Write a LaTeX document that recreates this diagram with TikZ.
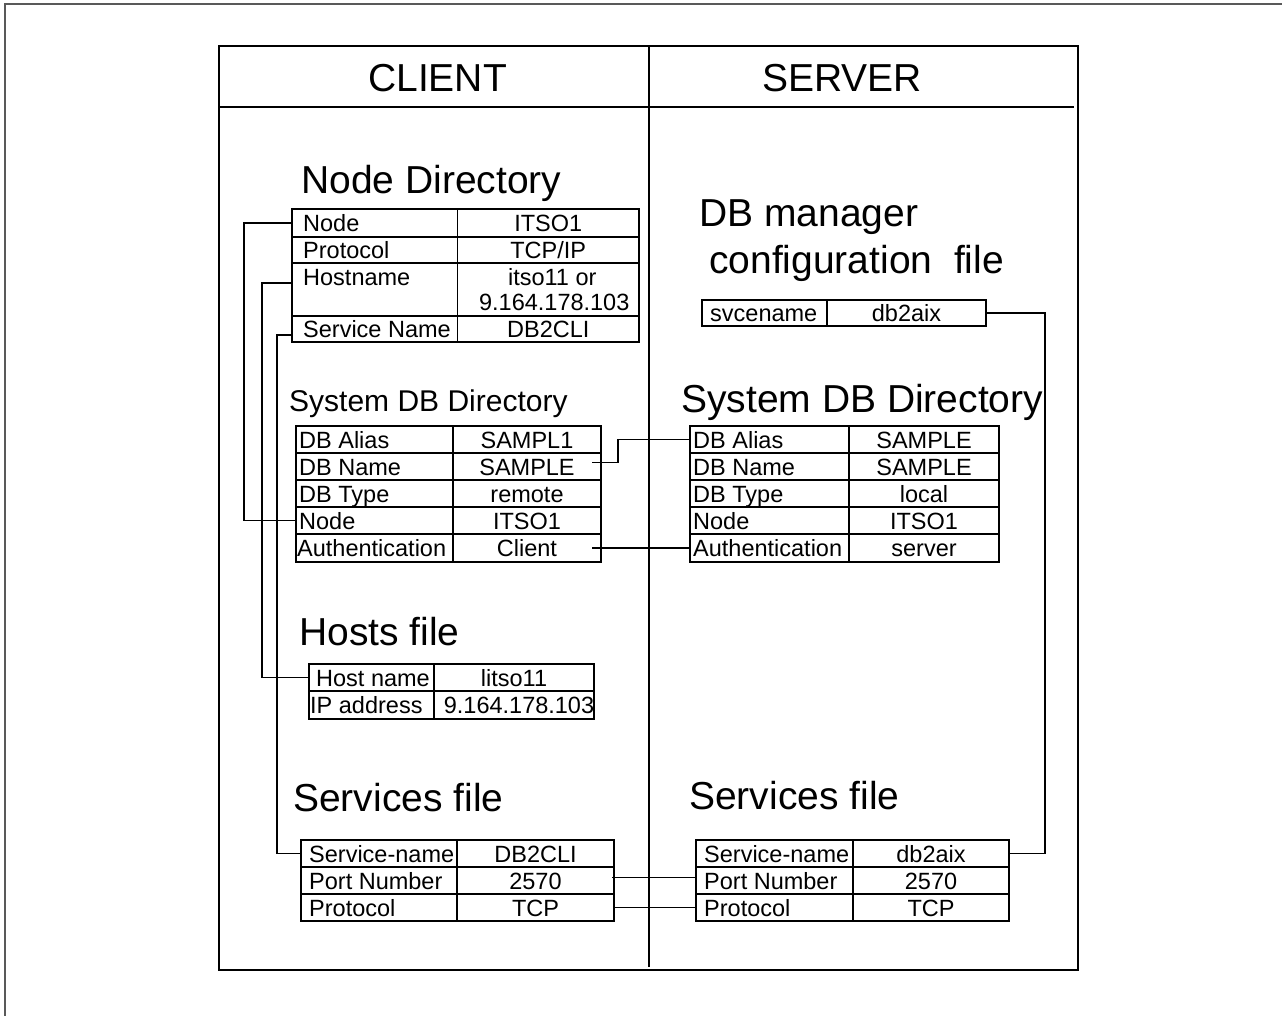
\documentclass[tikz,border=0pt]{standalone}
\usepackage{fontspec}
\setmainfont{Liberation Sans}
\usetikzlibrary{calc}

\tikzset{
  boxframe/.style={line width=2.6pt},
  pageframe/.style={line width=2pt, draw=black!65},
  cellbox/.style={draw, line width=1.8pt, rectangle, inner sep=0pt, outer sep=0pt},
  celltext/.style={inner sep=0pt, font=\fontsize{23.5}{25}\selectfont, text height=17pt, text depth=0pt},
  bigtitle/.style={inner sep=0pt, anchor=base west, font=\fontsize{39}{47}\selectfont},
  midtitle/.style={inner sep=0pt, anchor=base west, font=\fontsize{30}{36}\selectfont},
  conn/.style={line width=1.8pt},
}

% one table row: name, x-left, x-divider, x-right, y-top, y-bottom, label inset, label, value
\newcommand{\tabrow}[9]{%
  \node[cellbox, minimum width={#3-#2}, minimum height={#6-#5}, anchor=north west] (#1-l) at (#2,#5) {};
  \node[cellbox, minimum width={#4-#3}, minimum height={#6-#5}, anchor=north west] (#1-v) at (#3,#5) {};
  \node[celltext, anchor=west] (#1-lt) at ($(#1-l.west)+(#7,0)$) {#8};
  \node[celltext] (#1-vt) at (#1-v.center) {#9};
}

\begin{document}
\begin{tikzpicture}[x=1pt,y=-1pt]
  \fill[white] (0,0) rectangle (1282,1016);
  \useasboundingbox (0,0) rectangle (1282,1016);

  % page frame (open to the right and bottom)
  \draw[pageframe] (5,1016) -- (5,4) -- (1282,4);

  % main box with the two columns
  \draw[boxframe] (219,46) rectangle (1078,970);
  \draw[boxframe] (219,107) -- (1074,107);
  \draw[boxframe] (649,46) -- (649,967);
  \node[inner sep=0pt, anchor=base, font=\fontsize{39}{47}\selectfont] (hclient) at (437.5,92) {CLIENT};
  \node[inner sep=0pt, anchor=base, font=\fontsize{39}{47}\selectfont] (hserver) at (842,92) {SERVER};

  % ---------------- client: node directory ----------------
  \node[bigtitle] (tnd) at (301,194) {Node Directory};
  \tabrow{ND1}{292}{457.5}{639}{209}{237}{11}{Node}{ITSO1}
  \tabrow{ND2}{292}{457.5}{639}{237}{263}{11}{Protocol}{TCP/IP}
  \node[cellbox, minimum width=165.5, minimum height=53, anchor=north west] (ND3-l) at (292,263) {};
  \node[cellbox, minimum width=181.5, minimum height=53, anchor=north west] (ND3-v) at (457.5,263) {};
  \node[celltext, anchor=west] (ND3-lt) at ($(ND3-l.north west)+(11,14)$) {Hostname};
  \node[celltext] (ND3-vt1) at ($(ND3-v.north)+(4,14)$) {itso11 or};
  \node[celltext] (ND3-vt2) at ($(ND3-v.north)+(6,39)$) {9.164.178.103};
  \tabrow{ND4}{292}{457.5}{639}{316}{342}{11}{Service Name}{DB2CLI}

  % ---------------- client: system DB directory ----------------
  \node[midtitle] (tcs) at (289,411) {System DB Directory};
  \tabrow{CS1}{296}{453}{601}{426}{453}{3}{DB Alias}{SAMPL1}
  \tabrow{CS2}{296}{453}{601}{453}{480}{3}{DB Name}{SAMPLE}
  \tabrow{CS3}{296}{453}{601}{480}{507}{3}{DB Type}{remote}
  \tabrow{CS4}{296}{453}{601}{507}{534}{3}{Node}{ITSO1}
  \tabrow{CS5}{296}{453}{601}{534}{562}{1}{Authentication}{Client}

  % ---------------- client: hosts file ----------------
  \node[bigtitle] (thf) at (299,645) {Hosts file};
  \tabrow{HF1}{309}{434}{594}{664}{691}{7}{Host name}{litso11}
  \node[cellbox, minimum width=125, minimum height=28, anchor=north west] (HF2-l) at (309,691) {};
  \node[cellbox, minimum width=160, minimum height=28, anchor=north west] (HF2-v) at (434,691) {};
  \node[celltext, anchor=west] (HF2-lt) at ($(HF2-l.west)+(1,0)$) {IP address};
  \node[celltext] (HF2-vt) at ($(HF2-v.center)+(5,0)$) {9.164.178.103};

  % ---------------- client: services file ----------------
  \node[bigtitle] (tcv) at (293,811) {Services file};
  \tabrow{CV1}{301}{457}{614}{840}{867}{8}{Service-name}{DB2CLI}
  \tabrow{CV2}{301}{457}{614}{867}{894}{8}{Port Number}{2570}
  \tabrow{CV3}{301}{457}{614}{894}{921}{8}{Protocol}{TCP}

  % ---------------- server: DB manager configuration ----------------
  \node[bigtitle] (tdbm1) at (699,227) {DB manager};
  \node[bigtitle] (tdbm2) at (709,274) {configuration~~file};
  \tabrow{SC}{702}{827}{986}{300}{326}{8}{svcename}{db2aix}

  % ---------------- server: system DB directory ----------------
  \node[bigtitle] (tss) at (681,412) {System DB Directory};
  \tabrow{SS1}{690}{849}{999}{426}{453}{3}{DB Alias}{SAMPLE}
  \tabrow{SS2}{690}{849}{999}{453}{480}{3}{DB Name}{SAMPLE}
  \tabrow{SS3}{690}{849}{999}{480}{507}{3}{DB Type}{local}
  \tabrow{SS4}{690}{849}{999}{507}{534}{3}{Node}{ITSO1}
  \tabrow{SS5}{690}{849}{999}{534}{562}{3}{Authentication}{server}

  % ---------------- server: services file ----------------
  \node[bigtitle] (tsv) at (689,809) {Services file};
  \tabrow{SV1}{696}{853}{1009}{840}{867}{8}{Service-name}{db2aix}
  \tabrow{SV2}{696}{853}{1009}{867}{894}{8}{Port Number}{2570}
  \tabrow{SV3}{696}{853}{1009}{894}{921}{8}{Protocol}{TCP}

  % ---------------- links between entries ----------------
  \draw[conn] (ND1-l.west) -- ++(-48,0) |- (CS4-l.west);
  \draw[conn] ($(ND3-l.north west)+(0,20)$) -- ++(-30,0) |- (HF1-l.west);
  \draw[conn] ($(ND4-l.west)+(0,6)$) -- ++(-15,0) |- (CV1-l.west);
  \draw[conn] ($(CS2-v.east)+(-9,-4)$) -- ++(26,0) |- (SS1-l.west);
  \draw[conn] ($(CS5-v.east)+(-9,0)$) -- (SS5-l.west);
  \draw[conn] (SC-v.east) -- ++(59,0) |- (SV1-v.east);
  \draw[conn] ($(CV2-v.east)+(-2,-3)$) -- ($(SV2-l.west)+(0,-3)$);
  \draw[conn] (CV3-v.east) -- (SV3-l.west);
\end{tikzpicture}
\end{document}
